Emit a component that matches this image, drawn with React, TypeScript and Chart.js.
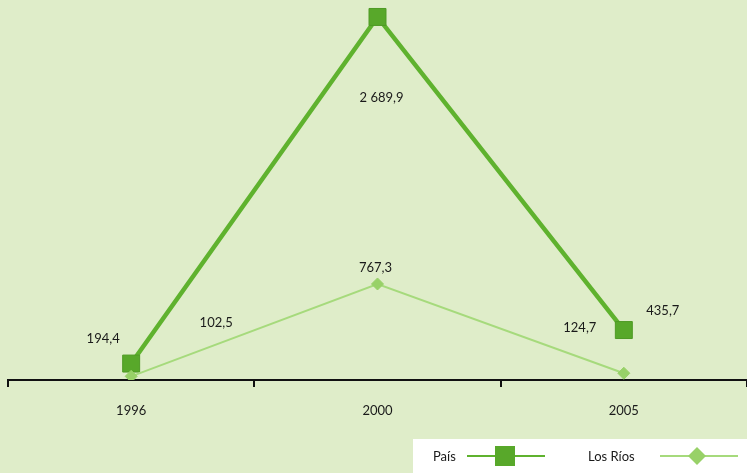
import { useEffect, useRef } from "react";
import { Chart, registerables } from "chart.js";

Chart.register(...registerables);

const years = ["1996", "2000", "2005"];
const paisValues = [194.4, 2689.9, 435.7];
const losRiosValues = [102.5, 767.3, 124.7];
const paisLabels = ["194,4", "2 689,9", "435,7"];
const losRiosLabels = ["102,5", "767,3", "124,7"];
const seriesNames = ["País", "Los Ríos"];

const BG = "#dfedc9";
const DARK = "#5fb22e";
const DARK_PT = "#58a82a";
const LIGHT = "#a6da7c";
const LIGHT_PT = "#98d168";
const FONT = "Lato, 'DejaVu Sans', sans-serif";

// label offsets relative to each point (pixels)
const paisOffsets = [[-28, -25], [4, 81], [39, -19]];
const losRiosOffsets = [[85, -54], [-2, -16], [-44, -45]];

export default function App() {
  const ref = useRef<HTMLCanvasElement>(null);
  useEffect(() => {
    if (!ref.current) return;
    const bgPlugin = {
      id: "bg",
      beforeDraw(chart: any) {
        const ctx = chart.ctx;
        ctx.save();
        ctx.fillStyle = BG;
        ctx.fillRect(0, 0, chart.width, chart.height);
        ctx.restore();
      },
    };
    const labelPlugin = {
      id: "vlabels",
      afterDatasetsDraw(chart: any) {
        const ctx = chart.ctx;
        ctx.save();
        ctx.font = `13px ${FONT}`;
        ctx.fillStyle = "#1a1a1a";
        ctx.textAlign = "center";
        ctx.textBaseline = "middle";
        const sets = [
          { idx: 0, labels: paisLabels, offs: paisOffsets },
          { idx: 1, labels: losRiosLabels, offs: losRiosOffsets },
        ];
        sets.forEach((s) => {
          const meta = chart.getDatasetMeta(s.idx);
          meta.data.forEach((p: any, i: number) => {
            ctx.fillText(s.labels[i], p.x + s.offs[i][0], p.y + s.offs[i][1]);
          });
        });
        ctx.restore();
      },
    };
    const legendPlugin = {
      id: "customLegend",
      afterDraw(chart: any) {
        const ctx = chart.ctx;
        const W = chart.width;
        const H = chart.height;
        ctx.save();
        ctx.fillStyle = "#ffffff";
        ctx.fillRect(W - 334, H - 34, 334, 34);
        const cy = H - 17;
        ctx.font = `13px ${FONT}`;
        ctx.fillStyle = "#1a1a1a";
        ctx.textAlign = "left";
        ctx.textBaseline = "middle";
        ctx.fillText(seriesNames[0], W - 314, cy + 1);
        ctx.strokeStyle = DARK;
        ctx.lineWidth = 2;
        ctx.beginPath();
        ctx.moveTo(W - 280, cy);
        ctx.lineTo(W - 202, cy);
        ctx.stroke();
        ctx.fillStyle = DARK_PT;
        ctx.fillRect(W - 252, cy - 10, 20, 20);
        ctx.fillStyle = "#1a1a1a";
        ctx.fillText(seriesNames[1], W - 159, cy + 1);
        ctx.strokeStyle = LIGHT;
        ctx.beginPath();
        ctx.moveTo(W - 87, cy);
        ctx.lineTo(W - 9, cy);
        ctx.stroke();
        ctx.fillStyle = LIGHT_PT;
        const dx = W - 50;
        ctx.beginPath();
        ctx.moveTo(dx - 9, cy);
        ctx.lineTo(dx, cy - 9);
        ctx.lineTo(dx + 9, cy);
        ctx.lineTo(dx, cy + 9);
        ctx.closePath();
        ctx.fill();
        ctx.restore();
      },
    };
    const chart = new Chart(ref.current, {
      type: "line",
      data: {
        labels: years,
        datasets: [
          {
            label: seriesNames[0],
            data: paisValues,
            borderColor: DARK,
            borderWidth: 4.5,
            pointStyle: "rect",
            pointRadius: 12,
            pointBackgroundColor: DARK_PT,
            pointBorderColor: "#4f9a25",
            pointBorderWidth: 1,
            tension: 0,
            order: 1,
          },
          {
            label: seriesNames[1],
            data: losRiosValues,
            borderColor: LIGHT,
            borderWidth: 2,
            pointStyle: "rectRot",
            pointRadius: 6,
            pointBackgroundColor: LIGHT_PT,
            pointBorderColor: LIGHT_PT,
            pointBorderWidth: 1,
            tension: 0,
            order: 0,
          },
        ],
      },
      options: {
        animation: false,
        responsive: false,
        maintainAspectRatio: false,
        layout: { padding: { left: 8, right: 0, top: 0, bottom: 0 }, autoPadding: false },
        plugins: { legend: { display: false }, tooltip: { enabled: false } },
        scales: {
          x: {
            offset: true,
            grid: {
              display: true,
              offset: true,
              drawOnChartArea: false,
              drawTicks: true,
              tickLength: 7,
              color: "#111",
              lineWidth: 2,
            },
            border: { display: true, color: "#111", width: 2 },
            ticks: { color: "#1a1a1a", font: { family: FONT, size: 13 }, padding: 16 },
            afterFit: (s: any) => {
              s.height = 93;
            },
          },
          y: { display: false, min: 76, max: 2812 },
        },
      },
      plugins: [bgPlugin, labelPlugin, legendPlugin],
    });
    return () => chart.destroy();
  }, []);
  return (
    <div style={{ position: "fixed", left: 0, top: 0, width: 747, height: 473 }}>
      <canvas ref={ref} width={747} height={473} style={{ width: 747, height: 473, display: "block" }} />
    </div>
  );
}
